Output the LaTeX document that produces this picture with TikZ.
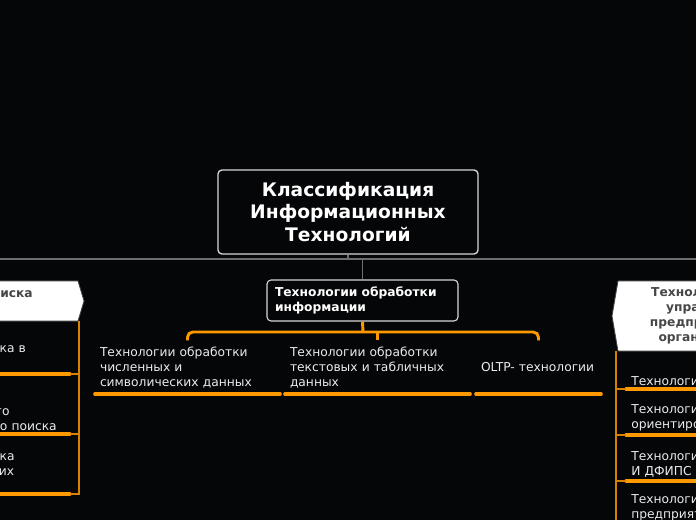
\documentclass[tikz,border=0pt]{standalone}
\usepackage{fontspec}
\setmainfont{DejaVu Sans}
\usetikzlibrary{calc}

\definecolor{bgdark}{HTML}{050608}
\definecolor{mmorange}{HTML}{FF9900}
\definecolor{twigorange}{HTML}{D98200}
\definecolor{trunkgray}{HTML}{6E6E6E}
\definecolor{boxline}{HTML}{D8D8D8}
\definecolor{calltext}{HTML}{474747}

\begin{document}
\begin{tikzpicture}[
  x=0.75pt, y=-0.75pt,
  every node/.style={font=\fontsize{9.2}{11.25}\selectfont, text=white!92!black},
  rootbox/.style={draw=boxline, line width=1pt, rounded corners=3pt, fill=bgdark,
                  minimum width=195pt, minimum height=63pt, align=center,
                  text=white, font=\fontsize{14}{16.9}\selectfont\bfseries},
  topicbox/.style={draw=boxline, line width=0.8pt, rounded corners=3pt, fill=bgdark,
                   text width=131.25pt, inner xsep=6pt, minimum height=30.75pt,
                   align=left, text=white, font=\fontsize{9.2}{11.25}\selectfont\bfseries},
  leaf/.style={text width=131.25pt, inner xsep=3.75pt, inner ysep=3pt, align=left,
               minimum height=39.75pt, anchor=south},
  sideleaf/.style={text width=131.25pt, inner xsep=3.75pt, inner ysep=2.6pt, align=left},
  calltxt/.style={text=calltext, font=\fontsize{9.2}{11.25}\selectfont\bfseries,
                  align=center, inner sep=0pt},
  callout/.style={fill=white, draw=white!25!bgdark, line width=0.6pt},
  trunk/.style={draw=trunkgray, line width=1pt},
  bracket/.style={draw=mmorange, line width=2.2pt, rounded corners=4pt},
  twig/.style={draw=twigorange, line width=0.8pt},
  uline/.style={draw=mmorange, line width=2.3pt, line cap=round}
]

%% Background
\fill[bgdark] (0,0) rectangle (696,520);
\useasboundingbox (0,0) rectangle (696,520);
\clip (0,0) rectangle (696,520);

%% Side branches
\filldraw[callout] (-20,281) -- (78,281) -- (84,301) -- (78,321) -- (-20,321) -- cycle;
\filldraw[callout] (716,281) -- (618,281) -- (612,316) -- (618,351) -- (716,351) -- cycle;

%% Nodes
\node[rootbox]  (root) at (348,212) {Классификация\\Информационных\\Технологий};
\node[topicbox] (proc) at (362.5,300.5) {Технологии обработки\\информации};

\node[leaf] (numd) at (187.5,394) {Технологии обработки\\численных и\\символических данных};
\node[leaf] (txtd) at (377.5,394) {Технологии обработки\\текстовых и табличных\\данных};
\node[leaf, text width=86.25pt] (oltp) at (538.5,394) {OLTP- технологии};

\node[calltxt, anchor=base east] (srch) at (33,298) {Технологии поиска};
\node[sideleaf, anchor=south east] (s1) at (70,374) {Технологии поиска в\\Интернете};
\node[sideleaf, anchor=south east] (s2) at (70,434) {Технологии\\информационного\\лингвистического поиска};
\node[sideleaf, anchor=south east] (s3) at (70,494) {Технологии поиска\\фактографических\\систем};

\node[calltxt] (mgmt) at (708,316) {Технологии для\\управления\\предприятием и\\организацией};
\node[sideleaf, anchor=south west, text width=200pt] (m1) at (626,389) {Технологии АСУП};
\node[sideleaf, anchor=south west, text width=200pt] (m2) at (626,435) {Технологии объектно-\\ориентированного анализа};
\node[sideleaf, anchor=south west, text width=200pt] (m3) at (626,481) {Технологии АСУ ТП\\И ДФИПС};
\node[sideleaf, anchor=south west, text width=200pt] (m4) at (626,525) {Технологии управления\\предприятием};

\foreach \n in {numd,txtd,oltp,s1,s2,s3,m1,m2,m3,m4}
  \draw[uline] (\n.south west) -- (\n.south east);

%% Connectors
\coordinate (busW) at (0,259);
\coordinate (busE) at (696,259);
\draw[trunk] (busW) -- (busE);
\draw[trunk] (root.south) -- (root.south |- busW);
\draw[trunk] (proc.north |- busW) -- (proc.north);

\coordinate (fork) at (363,332);
\draw[bracket] (proc.south) -- (fork);
\draw[bracket] (numd.north) |- (fork) -| (oltp.north);
\draw[bracket] (txtd.north |- fork) -- (txtd.north);

\coordinate (srchfoot) at (79,321);
\draw[twig] (srchfoot) |- (s3.south east);
\draw[twig] (s1.south east) -- (s1.south east -| srchfoot);
\draw[twig] (s2.south east) -- (s2.south east -| srchfoot);

\coordinate (mgmtfoot) at (616,351);
\draw[twig] (mgmtfoot) |- (m4.south west);
\foreach \n in {m1,m2,m3}
  \draw[twig] (\n.south west -| mgmtfoot) -- (\n.south west);

\end{tikzpicture}
\end{document}
